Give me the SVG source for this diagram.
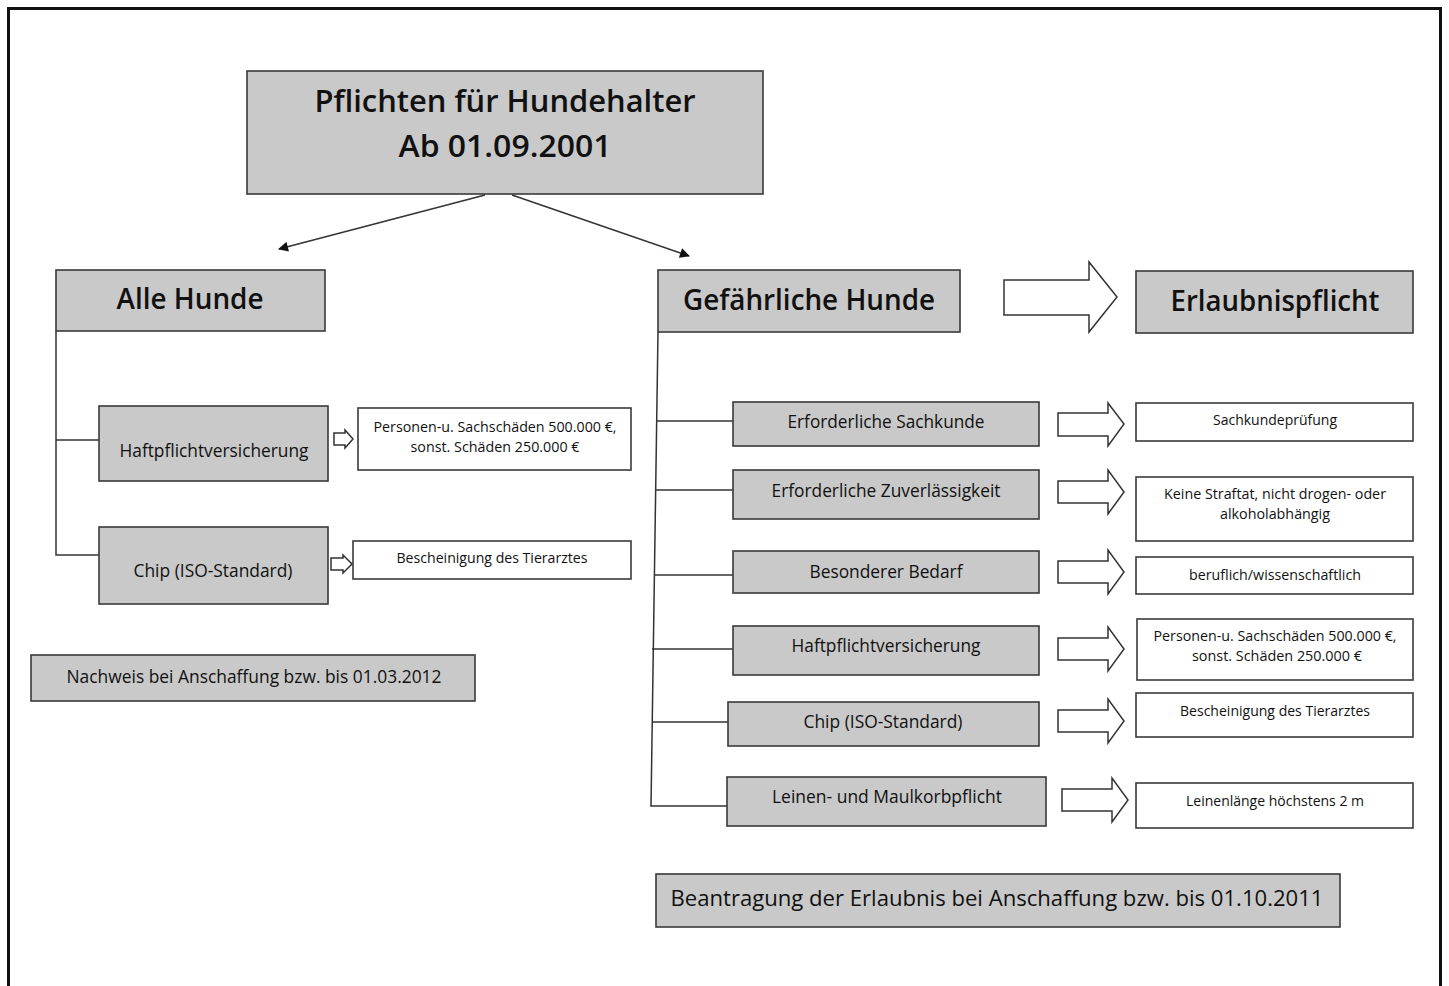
<svg xmlns="http://www.w3.org/2000/svg" width="1449" height="986" viewBox="0 0 1449 986">
<defs>
<style>
.g{fill:#c9c9c9;stroke:#3a3a3a;stroke-width:1.6}
.w{fill:#ffffff;stroke:#3a3a3a;stroke-width:1.6}
.t{font-family:"Open Sans","Noto Sans","Liberation Sans",sans-serif;fill:#111111;text-anchor:middle}
.big{font-size:30px;font-weight:600}
.hd{font-size:28px;font-weight:600}
.md{font-size:18px}
.sm{font-size:14px}
.ln{stroke:#333;stroke-width:1.5;fill:none}
.ba{fill:#ffffff;stroke:#333;stroke-width:1.5;stroke-linejoin:miter}
</style>
<marker id="ah" viewBox="0 0 10 10" refX="9" refY="5" markerWidth="11" markerHeight="10" markerUnits="userSpaceOnUse" orient="auto">
<path d="M0,0 L10,5 L0,10 Z" fill="#111"/>
</marker>
</defs>
<rect x="0" y="0" width="1449" height="986" fill="#ffffff"/>
<rect x="8.5" y="8.5" width="1432" height="995" fill="none" stroke="#111" stroke-width="3"/>

<g id="connectors">
<line class="ln" x1="485" y1="195" x2="279" y2="249" marker-end="url(#ah)"/>
<line class="ln" x1="512" y1="195" x2="689" y2="256" marker-end="url(#ah)"/>
<polyline class="ln" points="56,331 56,555 99,555"/>
<line class="ln" x1="56" y1="440" x2="99" y2="440"/>
<polyline class="ln" points="658,332 651,806 727,806"/>
<line class="ln" x1="657" y1="421" x2="733" y2="421"/>
<line class="ln" x1="656" y1="490" x2="733" y2="490"/>
<line class="ln" x1="655" y1="575" x2="733" y2="575"/>
<line class="ln" x1="652" y1="649" x2="733" y2="649"/>
<line class="ln" x1="652" y1="722" x2="728" y2="722"/>
<path class="ba" d="M334,433 H345 V430 L353,439 L345,448 V445 H334 Z"/>
<path class="ba" d="M331,558 H343 V555 L352,564 L343,573 V570 H331 Z"/>
<path class="ba" d="M1004,280 H1089 V262 L1117,297 L1089,332 V315 H1004 Z"/>
<path class="ba" d="M1058,413 H1108 V403 L1124,424 L1108,446 V436 H1058 Z"/>
<path class="ba" d="M1058,481 H1108 V470 L1124,492 L1108,514 V503 H1058 Z"/>
<path class="ba" d="M1058,561 H1108 V550 L1124,572 L1108,594 V583 H1058 Z"/>
<path class="ba" d="M1058,638 H1108 V627 L1124,649 L1108,671 V660 H1058 Z"/>
<path class="ba" d="M1058,710 H1108 V699 L1124,721 L1108,743 V732 H1058 Z"/>
<path class="ba" d="M1062,789 H1112 V778 L1128,800 L1112,822 V811 H1062 Z"/>
</g>

<g id="title">
<rect class="g" x="247" y="71" width="516" height="123"/>
<text class="t big" x="505" y="112" textLength="381" lengthAdjust="spacingAndGlyphs">Pflichten für Hundehalter</text>
<text class="t big" x="505" y="157" textLength="213" lengthAdjust="spacingAndGlyphs">Ab 01.09.2001</text>
</g>

<g id="alle-hunde">
<rect class="g" x="56" y="270" width="269" height="61"/>
<text class="t hd" x="190" y="309" textLength="147" lengthAdjust="spacingAndGlyphs">Alle Hunde</text>
</g>
<g id="a-haft">
<rect class="g" x="99" y="406" width="229" height="75"/>
<text class="t md" x="214" y="457" textLength="189" lengthAdjust="spacingAndGlyphs">Haftpflichtversicherung</text>
</g>
<g id="a-haft-r">
<rect class="w" x="358" y="408" width="273" height="62"/>
<text class="t sm" x="495" y="432" textLength="243" lengthAdjust="spacingAndGlyphs">Personen-u. Sachschäden 500.000 €,</text>
<text class="t sm" x="495" y="452" textLength="169" lengthAdjust="spacingAndGlyphs">sonst. Schäden 250.000 €</text>
</g>
<g id="a-chip">
<rect class="g" x="99" y="527" width="229" height="77"/>
<text class="t md" x="213" y="577" textLength="159" lengthAdjust="spacingAndGlyphs">Chip (ISO-Standard)</text>
</g>
<g id="a-chip-r">
<rect class="w" x="353" y="541" width="278" height="38"/>
<text class="t sm" x="492" y="563" textLength="191" lengthAdjust="spacingAndGlyphs">Bescheinigung des Tierarztes</text>
</g>
<g id="nachweis">
<rect class="g" x="31" y="655" width="444" height="46"/>
<text class="t md" x="254" y="683" textLength="375" lengthAdjust="spacingAndGlyphs">Nachweis bei Anschaffung bzw. bis 01.03.2012</text>
</g>

<g id="gefaehrliche-hunde">
<rect class="g" x="658" y="270" width="302" height="62"/>
<text class="t hd" x="809" y="310" textLength="252" lengthAdjust="spacingAndGlyphs">Gefährliche Hunde</text>
</g>
<g id="erlaubnispflicht">
<rect class="g" x="1136" y="271" width="277" height="62"/>
<text class="t hd" x="1275" y="311" textLength="209" lengthAdjust="spacingAndGlyphs">Erlaubnispflicht</text>
</g>

<g id="g-sachkunde">
<rect class="g" x="733" y="402" width="306" height="44"/>
<text class="t md" x="886" y="428" textLength="197" lengthAdjust="spacingAndGlyphs">Erforderliche Sachkunde</text>
</g>
<g id="g-zuverl">
<rect class="g" x="733" y="470" width="306" height="49"/>
<text class="t md" x="886" y="497" textLength="229" lengthAdjust="spacingAndGlyphs">Erforderliche Zuverlässigkeit</text>
</g>
<g id="g-bedarf">
<rect class="g" x="733" y="551" width="306" height="42"/>
<text class="t md" x="886" y="578" textLength="153" lengthAdjust="spacingAndGlyphs">Besonderer Bedarf</text>
</g>
<g id="g-haft">
<rect class="g" x="733" y="626" width="306" height="49"/>
<text class="t md" x="886" y="652" textLength="189" lengthAdjust="spacingAndGlyphs">Haftpflichtversicherung</text>
</g>
<g id="g-chip">
<rect class="g" x="728" y="702" width="311" height="44"/>
<text class="t md" x="883" y="728" textLength="159" lengthAdjust="spacingAndGlyphs">Chip (ISO-Standard)</text>
</g>
<g id="g-leine">
<rect class="g" x="727" y="777" width="319" height="49"/>
<text class="t md" x="887" y="803" textLength="230" lengthAdjust="spacingAndGlyphs">Leinen- und Maulkorbpflicht</text>
</g>

<g id="r-sachkunde">
<rect class="w" x="1136" y="403" width="277" height="38"/>
<text class="t sm" x="1275" y="425" textLength="124" lengthAdjust="spacingAndGlyphs">Sachkundeprüfung</text>
</g>
<g id="r-zuverl">
<rect class="w" x="1136" y="477" width="277" height="64"/>
<text class="t sm" x="1275" y="499" textLength="222" lengthAdjust="spacingAndGlyphs">Keine Straftat, nicht drogen- oder</text>
<text class="t sm" x="1275" y="519" textLength="110" lengthAdjust="spacingAndGlyphs">alkoholabhängig</text>
</g>
<g id="r-bedarf">
<rect class="w" x="1136" y="557" width="277" height="37"/>
<text class="t sm" x="1275" y="580" textLength="172" lengthAdjust="spacingAndGlyphs">beruflich/wissenschaftlich</text>
</g>
<g id="r-haft">
<rect class="w" x="1137" y="619" width="276" height="61"/>
<text class="t sm" x="1275" y="641" textLength="243" lengthAdjust="spacingAndGlyphs">Personen-u. Sachschäden 500.000 €,</text>
<text class="t sm" x="1277" y="661" textLength="170" lengthAdjust="spacingAndGlyphs">sonst. Schäden 250.000 €</text>
</g>
<g id="r-chip">
<rect class="w" x="1136" y="693" width="277" height="44"/>
<text class="t sm" x="1275" y="716" textLength="190" lengthAdjust="spacingAndGlyphs">Bescheinigung des Tierarztes</text>
</g>
<g id="r-leine">
<rect class="w" x="1136" y="783" width="277" height="45"/>
<text class="t sm" x="1275" y="806" textLength="178" lengthAdjust="spacingAndGlyphs">Leinenlänge höchstens 2 m</text>
</g>

<g id="beantragung">
<rect class="g" x="656" y="874" width="684" height="53"/>
<text class="t" style="font-size:21px" x="997" y="906" textLength="653" lengthAdjust="spacingAndGlyphs">Beantragung der Erlaubnis bei Anschaffung bzw. bis 01.10.2011</text>
</g>
</svg>
